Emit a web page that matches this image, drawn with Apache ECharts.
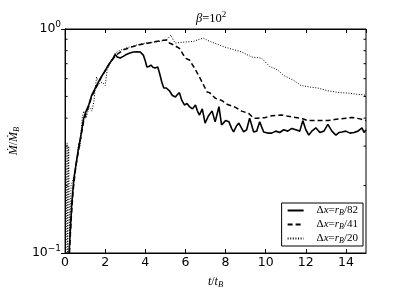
<!DOCTYPE html>
<html><head><meta charset="utf-8">
<script src="https://cdn.jsdelivr.net/npm/echarts@6/dist/echarts.min.js"></script>
<style>html,body{margin:0;padding:0;background:#fff}#c{width:407px;height:305px}</style>
</head><body><div id="c"></div>
<script>
// Solid: Δx = r_B/82
const solid = [[0.2,0.1],[0.27,0.13],[0.34,0.169],[0.44,0.215],[0.54,0.247],[0.66,0.29],[0.79,0.336],[0.93,0.40],[1.05,0.43],[1.18,0.458],[1.33,0.507],[1.55,0.555],[1.77,0.604],[1.97,0.645],[2.16,0.69],[2.3,0.72],[2.41,0.742],[2.5,0.77],[2.6,0.75],[2.75,0.742],[2.9,0.755],[3.0,0.765],[3.2,0.78],[3.4,0.79],[3.6,0.792],[3.74,0.79],[3.9,0.765],[4.0,0.72],[4.08,0.677],[4.18,0.68],[4.28,0.69],[4.38,0.675],[4.48,0.67],[4.62,0.677],[4.72,0.63],[4.82,0.58],[4.92,0.545],[5.05,0.545],[5.2,0.53],[5.35,0.505],[5.5,0.497],[5.6,0.51],[5.7,0.52],[5.82,0.48],[5.95,0.458],[6.08,0.465],[6.2,0.45],[6.35,0.44],[6.5,0.458],[6.6,0.43],[6.7,0.413],[6.84,0.44],[6.98,0.38],[7.15,0.41],[7.33,0.43],[7.48,0.385],[7.67,0.45],[7.8,0.373],[8.0,0.39],[8.17,0.385],[8.3,0.36],[8.4,0.347],[8.55,0.37],[8.66,0.38],[8.9,0.347],[9.05,0.355],[9.2,0.40],[9.4,0.347],[9.55,0.35],[9.7,0.385],[9.9,0.347],[10.1,0.343],[10.3,0.343],[10.5,0.35],[10.7,0.345],[10.9,0.355],[11.1,0.35],[11.3,0.36],[11.5,0.355],[11.7,0.35],[11.85,0.39],[12.0,0.355],[12.15,0.336],[12.3,0.35],[12.5,0.362],[12.7,0.345],[12.9,0.35],[13.1,0.375],[13.3,0.35],[13.5,0.336],[13.65,0.345],[13.8,0.347],[14.0,0.35],[14.2,0.343],[14.4,0.345],[14.6,0.35],[14.8,0.362],[14.9,0.345],[15.0,0.355]];
// Dashed: Δx = r_B/41
const dashed = [[0.22,0.1],[0.3,0.14],[0.4,0.19],[0.54,0.245],[0.79,0.33],[0.93,0.39],[1.18,0.455],[1.33,0.50],[1.77,0.60],[2.16,0.69],[2.5,0.76],[2.9,0.806],[3.3,0.83],[3.7,0.85],[4.0,0.86],[4.4,0.875],[4.9,0.89],[5.1,0.893],[5.2,0.866],[5.4,0.85],[5.7,0.82],[6.0,0.74],[6.2,0.727],[6.45,0.67],[6.7,0.61],[7.08,0.523],[7.2,0.52],[7.5,0.49],[7.8,0.48],[8.1,0.46],[8.47,0.448],[8.8,0.43],[9.15,0.42],[9.4,0.40],[9.6,0.40],[9.95,0.402],[10.3,0.41],[10.8,0.413],[11.3,0.405],[11.75,0.40],[12.1,0.39],[12.6,0.39],[13.1,0.39],[13.5,0.395],[14.0,0.40],[14.3,0.403],[14.7,0.397],[15.0,0.39]];
// Dotted: Δx = r_B/20
const dotted = [[0.05,0.1],[0.1,0.31],[0.13,0.1],[0.18,0.3],[0.22,0.12],[0.3,0.2],[0.45,0.22],[0.6,0.265],[0.68,0.31],[0.75,0.3],[0.85,0.4],[0.93,0.43],[1.05,0.40],[1.2,0.45],[1.33,0.43],[1.43,0.47],[1.57,0.61],[1.7,0.57],[1.85,0.58],[2.0,0.56],[2.1,0.66],[2.3,0.72],[2.5,0.78],[2.7,0.80],[3.0,0.82],[3.5,0.845],[4.0,0.866],[4.5,0.875],[5.0,0.89],[5.15,0.91],[5.27,0.94],[5.4,0.89],[5.5,0.866],[5.75,0.87],[6.0,0.875],[6.4,0.88],[6.7,0.9],[6.9,0.91],[7.1,0.89],[7.3,0.875],[7.67,0.85],[7.97,0.83],[8.46,0.806],[8.8,0.79],[9.3,0.75],[9.6,0.745],[9.8,0.74],[10.2,0.68],[10.6,0.656],[10.9,0.62],[11.4,0.59],[11.75,0.56],[12.25,0.55],[12.6,0.545],[13.1,0.53],[13.7,0.52],[14.07,0.518],[14.5,0.512],[14.95,0.507]];
const seriesNames = ['r82','r41','r20'];
const legendDenoms = ['82','41','20'];
const xTicks = [0,2,4,6,8,10,12,14];
const yMinorTicks = [0.2,0.3,0.4,0.5,0.6,0.7,0.8,0.9];

const chart = echarts.init(document.getElementById('c'), null, {renderer:'canvas'});
const serif = 'Liberation Serif';
const sans = 'DejaVu Sans';
const supLabel = v => (v >= 0.99 ? '{b|10}{s|0}' : '{b|10}{s|−1}');
const labelRich = {b:{fontFamily:sans,fontSize:12.5,color:'#000'}, s:{fontFamily:sans,fontSize:9,color:'#000',padding:[0,0,8,0]}};
const legendRich = {
  n:{fontFamily:serif,fontSize:11,color:'#000'},
  i:{fontFamily:serif,fontStyle:'italic',fontSize:11,color:'#000'},
  sub:{fontFamily:serif,fontStyle:'italic',fontSize:8,color:'#000',padding:[5,0,0,0]}
};
const minorTickSeries = {
  type:'custom', silent:true, z:5,
  data: yMinorTicks.map(v=>[0,v]),
  renderItem:(params, api) => {
    const v = api.value(1);
    const l = api.coord([0, v]);
    const r = api.coord([15, v]);
    return {type:'group', children:[
      {type:'line', shape:{x1:l[0],y1:l[1],x2:l[0]+2.5,y2:l[1]}, style:{stroke:'#000',lineWidth:1}},
      {type:'line', shape:{x1:r[0],y1:r[1],x2:r[0]-2.5,y2:r[1]}, style:{stroke:'#000',lineWidth:1}}
    ]};
  }
};
const option = {
  animation:false,
  backgroundColor:'#fff',
  color:['#000','#000','#000'],
  grid:{left:61,right:41,top:29,bottom:52,show:true,borderColor:'#000',borderWidth:1},
  graphic:[{
    type:'text', left:196, top:10,
    style:{text:'{i|β}{n|=10}{s|2}', rich:{
      i:{fontFamily:serif,fontStyle:'italic',fontSize:12.5,color:'#000'},
      n:{fontFamily:serif,fontSize:12.5,color:'#000'},
      s:{fontFamily:serif,fontSize:9,color:'#000',padding:[0,0,8,0]}}}
  }],
  xAxis:[{
    type:'value', min:0, max:15, interval:2, position:'bottom',
    axisLine:{show:true,lineStyle:{color:'#000',width:1}},
    axisTick:{show:true,inside:true,length:4,lineStyle:{color:'#000'}},
    axisLabel:{show:true,showMaxLabel:false,color:'#000',fontFamily:sans,fontSize:12.5,margin:3,
      formatter:v=> xTicks.includes(v)? String(v) : ''},
    splitLine:{show:false},
    name:'{i|t}{n|/}{i|t}{sub|B}', nameLocation:'middle', nameGap:22,
    nameTextStyle:{rich:{
      n:{fontFamily:serif,fontSize:12,color:'#000'},
      i:{fontFamily:serif,fontStyle:'italic',fontSize:12,color:'#000'},
      sub:{fontFamily:serif,fontStyle:'italic',fontSize:8.5,color:'#000',padding:[5,0,0,0]}}}
  },{
    type:'value', min:0, max:15, interval:2, position:'top',
    axisLine:{show:true,lineStyle:{color:'#000',width:1}},
    axisTick:{show:true,inside:true,length:4,lineStyle:{color:'#000'}},
    axisLabel:{show:false}, splitLine:{show:false}
  }],
  yAxis:[{
    type:'log', logBase:10, min:0.1, max:1, interval:1, position:'left',
    axisLine:{show:true,lineStyle:{color:'#000',width:1}},
    axisTick:{show:true,inside:true,length:4,lineStyle:{color:'#000'}},
    axisLabel:{color:'#000',margin:4,formatter:supLabel,rich:labelRich},
    splitLine:{show:false},
    name:'{i|Ṁ}{n|/}{i|Ṁ}{sub|B}', nameLocation:'middle', nameGap:40,
    nameTextStyle:{rich:{
      n:{fontFamily:serif,fontSize:12,color:'#000'},
      i:{fontFamily:serif,fontStyle:'italic',fontSize:12,color:'#000'},
      sub:{fontFamily:serif,fontStyle:'italic',fontSize:8.5,color:'#000',padding:[5,0,0,0]}}}
  },{
    type:'log', logBase:10, min:0.1, max:1, interval:1, position:'right',
    axisLine:{show:true,lineStyle:{color:'#000',width:1}},
    axisTick:{show:true,inside:true,length:4,lineStyle:{color:'#000'}},
    axisLabel:{show:false}, splitLine:{show:false}
  }],
  legend:{
    orient:'vertical', right:44, top:203,
    data:seriesNames,
    backgroundColor:'#fff', borderColor:'#000', borderWidth:1, borderRadius:0,
    padding:[2,5,1,5], itemGap:2, itemWidth:16, itemHeight:12,
    itemStyle:{opacity:0},
    formatter:name => '{n|Δ}{i|x}{n|=}{i|r}{sub|B}{n|/' + legendDenoms[seriesNames.indexOf(name)] + '}',
    textStyle:{rich:legendRich, padding:[0,0,0,8]}
  },
  series:[
    {name:seriesNames[0], type:'line', data:solid, showSymbol:false, symbol:'none', clip:true,
      itemStyle:{color:'#000'}, lineStyle:{color:'#000',width:1.6,type:'solid'}, z:3},
    {name:seriesNames[1], type:'line', data:dashed, showSymbol:false, symbol:'none', clip:true,
      itemStyle:{color:'#000'}, lineStyle:{color:'#000',width:1.5,type:[5,3]}, z:3},
    {name:seriesNames[2], type:'line', data:dotted, showSymbol:false, symbol:'none', clip:true,
      itemStyle:{color:'#000'}, lineStyle:{color:'#000',width:1,type:[1,1.6]}, z:3},
    minorTickSeries
  ]
};
chart.setOption(option);
</script></body></html>
